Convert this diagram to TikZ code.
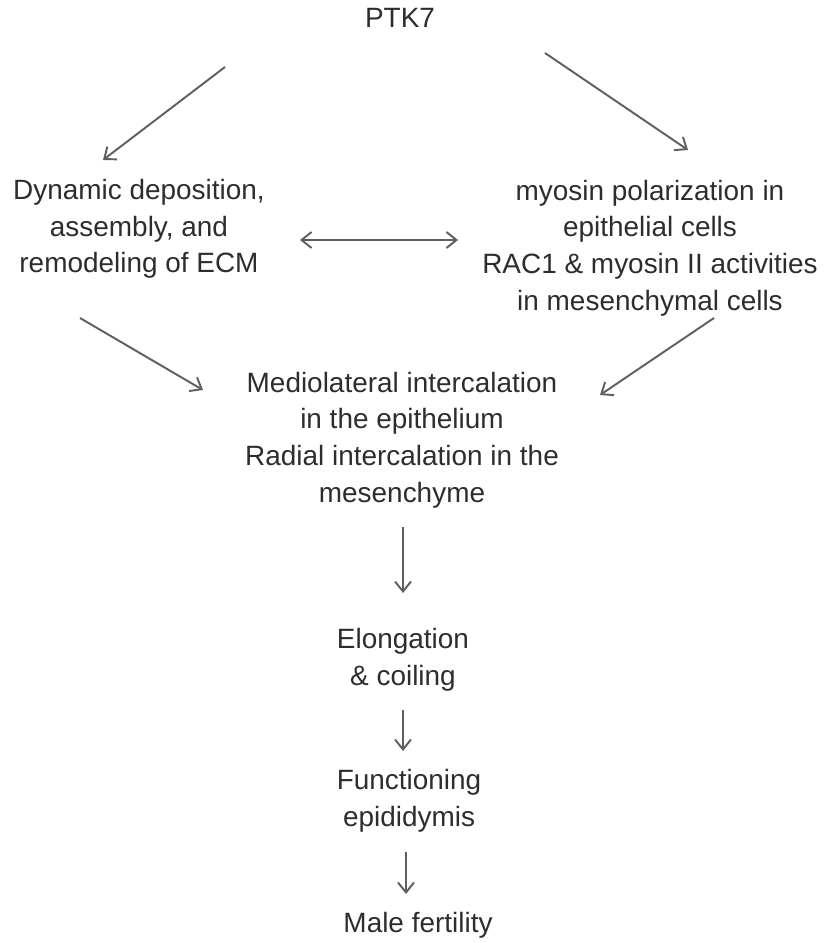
\documentclass[tikz,border=0pt]{standalone}
\usepackage{fontspec}
\setmainfont{Liberation Sans}
\usetikzlibrary{arrows.meta,positioning}
\definecolor{inkgray}{RGB}{45,45,45}
\definecolor{arrgray}{RGB}{95,95,95}

\begin{document}
\begin{tikzpicture}[font=\fontsize{15.9}{20.8}\selectfont,label/.style={align=center,text=inkgray,inner sep=0pt},flow/.style={-{Straight Barb[length=2mm,width=3.2mm]},line width=1.1pt,draw=arrgray},both/.style={{Straight Barb[length=2mm,width=3.2mm]}-{Straight Barb[length=2mm,width=3.2mm]},line width=1.1pt,draw=arrgray}]
\useasboundingbox (0,0) rectangle (16.56,-18.86);
\node[label] (ptk7) at (8.0,-0.36) {PTK7};
\node[label] (ecm) at (2.78,-4.58) {Dynamic deposition,\\assembly, and\\remodeling of ECM};
\node[label] (myosin) at (13.0,-4.96) {myosin polarization in\\epithelial cells\\RAC1 \& myosin II activities\\in mesenchymal cells};
\node[label] (intercal) at (8.04,-8.8) {Mediolateral intercalation\\in the epithelium\\Radial intercalation in the\\mesenchyme};
\node[label] (elong) at (8.06,-13.2) {Elongation\\\& coiling};
\node[label] (epid) at (8.18,-16.02) {Functioning\\epididymis};
\node[label] (fert) at (8.36,-18.5) {Male fertility};
% free arrow ends
\coordinate (ptkL) at (4.5,-1.34);
\coordinate (ecmT) at (2.06,-3.2);
\coordinate (ptkR) at (10.9,-1.06);
\coordinate (myoT) at (13.76,-3.0);
\coordinate (ecmR) at (6.0,-4.8);
\coordinate (myoL) at (9.16,-4.8);
\coordinate (ecmB) at (1.6,-6.36);
\coordinate (intL) at (4.06,-7.8);
\coordinate (myoB) at (14.28,-6.36);
\coordinate (intR) at (12.0,-7.9);
\coordinate (intB) at (8.06,-10.54);
\coordinate (elT) at (8.06,-11.86);
\coordinate (elB) at (8.06,-14.2);
\coordinate (epT) at (8.06,-15.02);
\coordinate (epB) at (8.12,-17.04);
\coordinate (frT) at (8.12,-17.88);
\draw[flow] (ptkL) -- (ecmT);
\draw[flow] (ptkR) -- (myoT);
\draw[both] (ecmR) -- (myoL);
\draw[flow] (ecmB) -- (intL);
\draw[flow] (myoB) -- (intR);
\draw[flow] (intB) -- (elT);
\draw[flow] (elB) -- (epT);
\draw[flow] (epB) -- (frT);
\end{tikzpicture}
\end{document}
